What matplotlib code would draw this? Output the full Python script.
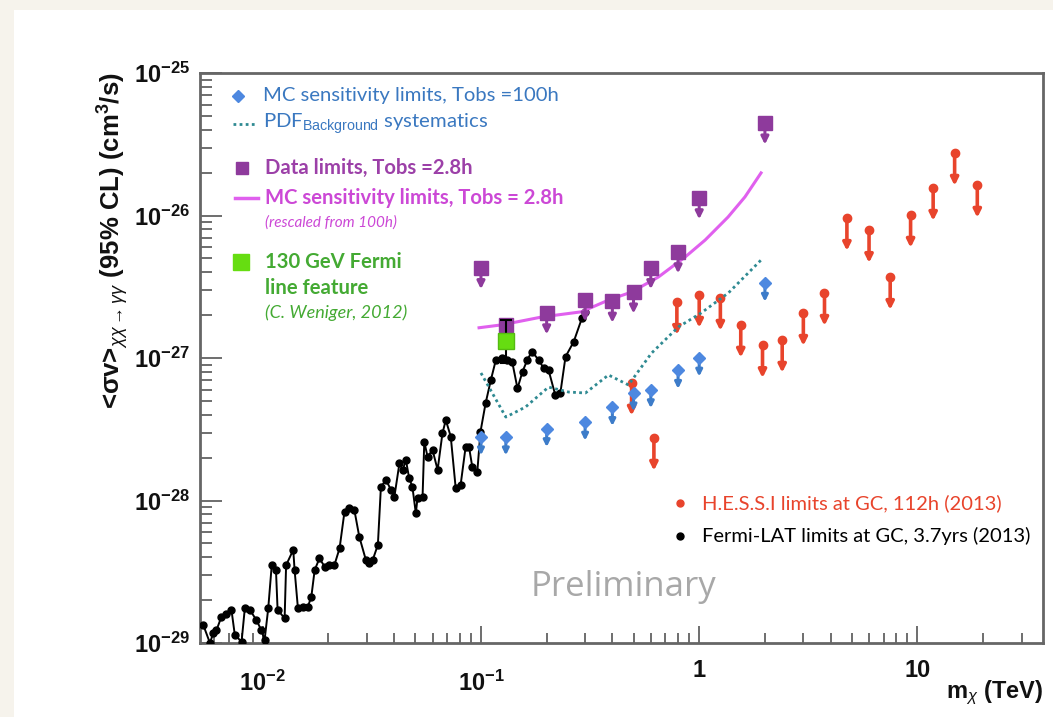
import matplotlib.pyplot as plt
from matplotlib.lines import Line2D
from matplotlib.patches import Rectangle
from matplotlib.ticker import FixedLocator, LogLocator, NullFormatter
from matplotlib.transforms import ScaledTranslation
import math

plt.rcParams['font.family'] = ['Liberation Sans', 'DejaVu Sans']
plt.rcParams['mathtext.fontset'] = 'custom'
plt.rcParams['mathtext.rm'] = 'Liberation Sans'
plt.rcParams['mathtext.bf'] = 'Liberation Sans:bold'
plt.rcParams['mathtext.it'] = 'Liberation Sans:italic'

# Fermi-LAT line limits at the GC, 3.7 yrs (TeV, cm^3/s)
fermi_mass = [0.00534, 0.00573, 0.00593, 0.00614, 0.00647, 0.00682, 0.00719, 0.00745,
              0.00800, 0.00828, 0.00873, 0.00935, 0.00986, 0.0102, 0.0106, 0.0110,
              0.0115, 0.0117, 0.0126, 0.0128, 0.0138, 0.0140, 0.0145, 0.0153,
              0.0161, 0.0167, 0.0173, 0.0182, 0.0192, 0.0202, 0.0213, 0.0225,
              0.0237, 0.0249, 0.0263, 0.0277, 0.0297, 0.0308, 0.0319, 0.0337,
              0.0348, 0.0367, 0.0387, 0.0401, 0.0423, 0.0438, 0.0453, 0.0469,
              0.0485, 0.0503, 0.0512, 0.0540, 0.0550, 0.0569, 0.0600, 0.0633,
              0.0666, 0.0690, 0.0727, 0.0766, 0.0807, 0.0851, 0.0881, 0.0912,
              0.0962, 0.0995, 0.105, 0.111, 0.117, 0.125, 0.132, 0.139,
              0.147, 0.155, 0.163, 0.171, 0.184, 0.194, 0.204, 0.219,
              0.231, 0.244, 0.266, 0.290, 0.300]
fermi_limit = [1.34e-29, 1.00e-29, 1.17e-29, 1.23e-29, 1.53e-29, 1.61e-29, 1.71e-29, 1.14e-29,
               1.02e-29, 1.75e-29, 1.71e-29, 1.45e-29, 1.23e-29, 1.05e-29, 1.75e-29, 3.52e-29,
               3.25e-29, 1.71e-29, 1.49e-29, 3.52e-29, 4.50e-29, 3.25e-29, 1.75e-29, 1.80e-29,
               1.80e-29, 2.11e-29, 3.25e-29, 3.93e-29, 3.44e-29, 3.52e-29, 3.52e-29, 4.62e-29,
               8.36e-29, 8.81e-29, 8.57e-29, 5.57e-29, 3.82e-29, 3.62e-29, 3.82e-29, 4.88e-29,
               1.25e-28, 1.39e-28, 1.19e-28, 1.06e-28, 1.82e-28, 1.64e-28, 1.92e-28, 1.43e-28,
               1.25e-28, 8.13e-29, 1.04e-28, 1.06e-28, 2.59e-28, 2.03e-28, 2.26e-28, 1.64e-28,
               2.96e-28, 3.67e-28, 2.81e-28, 1.22e-28, 1.29e-28, 2.39e-28, 2.39e-28, 1.73e-28,
               1.59e-28, 3.04e-28, 4.81e-28, 7.01e-28, 9.68e-28, 9.95e-28, 9.68e-28, 9.42e-28,
               6.12e-28, 8.02e-28, 9.68e-28, 1.11e-27, 9.68e-28, 8.45e-28, 8.24e-28, 5.50e-28,
               5.65e-28, 1.02e-27, 1.30e-27, 1.90e-27, 2.10e-27]

# H.E.S.S.-I limits at the GC, 112 h
hess_mass = [0.49, 0.62, 0.79, 1.0, 1.25, 1.55, 1.95, 2.4, 3.0, 3.75, 4.75, 6.0, 7.5,
             9.3, 11.8, 14.8, 18.8]
hess_limit = [6.7e-28, 2.75e-28, 2.47e-27, 2.77e-27, 2.64e-27, 1.71e-27, 1.23e-27,
              1.34e-27, 2.07e-27, 2.86e-27, 9.6e-27, 7.9e-27, 3.7e-27, 1.01e-26,
              1.56e-26, 2.75e-26, 1.64e-26]

# data limits, Tobs = 2.8 h
data_mass = [0.1, 0.13, 0.2, 0.3, 0.4, 0.5, 0.6, 0.8, 1.0, 2.0]
data_limit = [4.3e-27, 1.71e-27, 2.07e-27, 2.55e-27, 2.5e-27, 2.9e-27, 4.3e-27,
              5.55e-27, 1.33e-26, 4.45e-26]

# MC sensitivity, Tobs = 100 h
mc_mass = [0.1, 0.13, 0.2, 0.3, 0.4, 0.5, 0.6, 0.8, 1.0, 2.0]
mc_limit = [2.8e-28, 2.8e-28, 3.2e-28, 3.55e-28, 4.5e-28, 5.7e-28, 6.0e-28,
            8.2e-28, 1.0e-27, 3.35e-27]

# MC sensitivity rescaled to 2.8 h
mc28_mass = [0.098, 0.125, 0.19, 0.289, 0.384, 0.489, 0.65, 0.863, 1.065, 1.355,
             1.62, 1.92]
mc28_limit = [1.63e-27, 1.71e-27, 1.94e-27, 2.11e-27, 2.55e-27, 2.9e-27, 3.7e-27,
              5.12e-27, 6.73e-27, 9.75e-27, 1.35e-26, 1.99e-26]

# background PDF systematics
syst_mass = [0.1, 0.112, 0.13, 0.16, 0.204, 0.252, 0.301, 0.384, 0.474, 0.604,
             0.802, 1.02, 1.36, 1.92]
syst_limit = [7.85e-28, 5.77e-28, 3.85e-28, 4.53e-28, 6.25e-28, 5.77e-28, 5.68e-28,
              7.6e-28, 6.47e-28, 1.08e-27, 1.65e-27, 2.07e-27, 2.86e-27, 4.87e-27]

# 130 GeV Fermi line feature (Weniger 2012)
line_mass = [0.13]
line_value = [1.31e-27]
line_low = [9.2e-28]
line_high = [1.85e-27]

x_ticks = [1e-2, 1e-1, 1, 10]
x_tick_labels = [r'$\mathbf{10^{-2}}$', r'$\mathbf{10^{-1}}$', '1', '10']
y_ticks = [1e-29, 1e-28, 1e-27, 1e-26, 1e-25]

blue = '#4d88e0'
blue_txt = '#3a78c0'
teal = '#2f8a92'
purple = '#8e3a9c'
purple_txt = '#9c40a8'
magenta = '#e060ee'
magenta_txt = '#cc48d6'
green = '#66dd11'
green_txt = '#44aa33'
red = '#e8442c'

W, H = 1053, 717


def fx(x):
    return x / W


def fy(y):
    return 1 - y / H


fig = plt.figure(figsize=(W / 100, H / 100), dpi=100, facecolor='#f6f3ec')
fig.add_artist(Rectangle((fx(14), 0), 1, fy(10), transform=fig.transFigure,
                         facecolor='white', edgecolor='none', zorder=-10))

ax = fig.add_axes([fx(200), fy(643), fx(843), 570 / H])
ax.set_xscale('log')
ax.set_yscale('log')
ax.set_xlim(5.16e-3, 37.6)
ax.set_ylim(1e-29, 1e-25)
for sp in ax.spines.values():
    sp.set_color('#666666')
    sp.set_linewidth(2)


def down_arrow(x, y, dec, color, lw, head, z):
    # upper-limit arrow, length given in decades
    ax.annotate('', xy=(x, y * 10 ** (-dec)), xytext=(x, y),
                arrowprops=dict(arrowstyle='-|>', color=color, lw=lw,
                                mutation_scale=head, shrinkA=0, shrinkB=0),
                zorder=z)


# Fermi-LAT
ax.plot(fermi_mass, fermi_limit, '-o', color='black', lw=1.4, ms=5, zorder=4)

# H.E.S.S.-I
for m, v in zip(hess_mass, hess_limit):
    down_arrow(m, v, 0.23, red, 2.6, 11, 3)
ax.plot(hess_mass, hess_limit, 'o', color=red, ms=6, zorder=3)

# systematics
ax.plot(syst_mass, syst_limit, color=teal, lw=2, ls=(0, (1, 1.2)), zorder=4)

# MC 100 h
for m, v in zip(mc_mass, mc_limit):
    down_arrow(m, v, 0.13, '#3d7cc9', 2.2, 9, 5)
ax.plot(mc_mass, mc_limit, 'D', color=blue, ms=6.5, zorder=5)

# MC 2.8 h
ax.plot(mc28_mass, mc28_limit, color=magenta, lw=2.2, zorder=5)

# data limits
for m, v in zip(data_mass, data_limit):
    down_arrow(m, v, 0.15, purple, 2.2, 11, 6)
ax.plot(data_mass, data_limit, 's', color=purple, ms=10.5, zorder=6)

# 130 GeV feature
ax.errorbar(line_mass, line_value,
            yerr=[[v - lo for v, lo in zip(line_value, line_low)],
                  [hi - v for v, hi in zip(line_value, line_high)]],
            fmt='none', ecolor='black', elinewidth=1.5, capsize=4, capthick=1.5, zorder=7)
ax.plot(line_mass, line_value, 's', color=green, mec='#55bb11', ms=12, zorder=8)

# axes ticks
ax.tick_params(which='both', direction='in', top=False, right=False,
               colors='#555555', labelcolor='#111111', width=1.2)
ax.tick_params(axis='y', which='major', length=16, pad=7, labelsize=17)
ax.tick_params(axis='y', which='minor', length=8.5)
ax.tick_params(axis='x', which='major', length=12, pad=20, labelsize=17)
ax.tick_params(axis='x', which='minor', length=7)
ax.yaxis.set_major_locator(FixedLocator(y_ticks))
ax.yaxis.set_major_formatter(lambda v, _: r'$\mathbf{10^{%d}}$' % round(math.log10(v)))
ax.yaxis.set_minor_locator(LogLocator(base=10, subs=range(2, 10), numticks=20))
ax.yaxis.set_minor_formatter(NullFormatter())
ax.xaxis.set_major_locator(FixedLocator(x_ticks))
ax.set_xticklabels(x_tick_labels, fontweight='bold')
ax.xaxis.set_minor_locator(LogLocator(base=10, subs=range(2, 10), numticks=20))
ax.xaxis.set_minor_formatter(NullFormatter())
for lab in ax.get_xticklabels():
    if '$' not in lab.get_text():
        lab.set_transform(lab.get_transform() + ScaledTranslation(0, 12 / 100, fig.dpi_scale_trans))

# axis titles
fig.text(fx(113), fy(72), r'<$\mathbf{\sigma}$v>$_{\chi\chi\rightarrow\gamma\gamma}$ (95% CL) (cm$^{\mathbf{3}}$/s)',
         rotation=90, ha='center', va='top', fontsize=18.5, fontweight='bold', color='#111111')
fig.text(fx(1043), fy(698), r'm$_{\chi}$ (TeV)', ha='right', va='baseline',
         fontsize=17, fontweight='bold', color='#111111')

# key, upper left
lg = ['Lato', 'DejaVu Sans']
fs = 14.6
fig.add_artist(Line2D([fx(238)], [fy(96)], marker='D', ms=6, color=blue, transform=fig.transFigure))
fig.add_artist(Line2D([fx(233), fx(257)], [fy(124), fy(124)], color=teal, lw=2, ls=(0, (1, 1.2)),
                      transform=fig.transFigure))
fig.add_artist(Line2D([fx(242)], [fy(168)], marker='s', ms=9, color=purple, transform=fig.transFigure))
fig.add_artist(Line2D([fx(235), fx(258)], [fy(198), fy(198)], color=magenta, lw=2.5,
                      transform=fig.transFigure))
fig.add_artist(Line2D([fx(241)], [fy(262)], marker='s', ms=11, color=green, transform=fig.transFigure))

fig.text(fx(263), fy(96), 'MC sensitivity limits, Tobs =100h', color=blue_txt,
         fontsize=fs, family=lg, va='center')
fig.text(fx(263), fy(124), r'PDF$_{\mathrm{Background}}$ systematics', color=blue_txt,
         fontsize=fs, family=lg, va='center')
fig.text(fx(265), fy(168), 'Data limits, Tobs =2.8h', color=purple_txt,
         fontsize=fs, family=lg, va='center', fontweight='bold')
fig.text(fx(265), fy(198), 'MC sensitivity limits, Tobs = 2.8h', color=magenta_txt,
         fontsize=fs, family=lg, va='center', fontweight='bold')
fig.text(fx(265), fy(223), '(rescaled from 100h)', color=magenta_txt,
         fontsize=11, family=lg, va='center', style='italic')
fig.text(fx(265), fy(262), '130 GeV Fermi', color=green_txt,
         fontsize=fs, family=lg, va='center', fontweight='bold')
fig.text(fx(265), fy(288), 'line feature', color=green_txt,
         fontsize=fs, family=lg, va='center', fontweight='bold')
fig.text(fx(265), fy(313), '(C. Weniger, 2012)', color=green_txt,
         fontsize=13, family=lg, va='center', style='italic')

# key, lower right
fig.add_artist(Line2D([fx(680)], [fy(503)], marker='o', ms=5, color=red, transform=fig.transFigure))
fig.add_artist(Line2D([fx(680)], [fy(536)], marker='o', ms=5, color='black', transform=fig.transFigure))
fig.text(fx(702), fy(503), 'H.E.S.S.I limits at GC, 112h (2013)', color=red,
         fontsize=14.5, family=lg, va='center')
fig.text(fx(702), fy(536), 'Fermi-LAT limits at GC, 3.7yrs (2013)', color='black',
         fontsize=14.5, family=lg, va='center')

fig.text(fx(623), fy(587), 'Preliminary', color='#a8a8a8', fontsize=25,
         family=['Open Sans', 'DejaVu Sans'], ha='center', va='center')

fig.savefig('out.png', dpi=100, facecolor=fig.get_facecolor())
